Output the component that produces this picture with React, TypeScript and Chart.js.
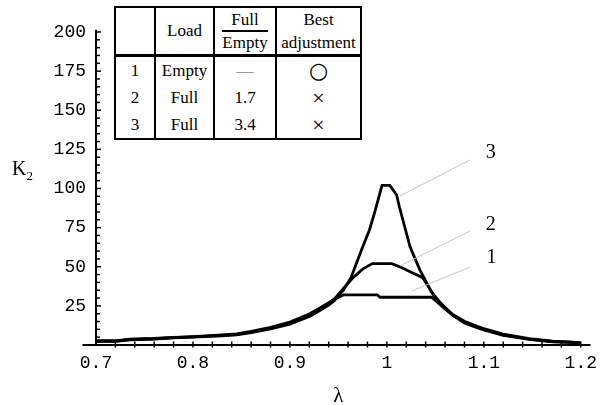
import React, { useEffect, useRef } from "react";
import { Chart, registerables } from "chart.js";
Chart.register(...registerables);

// ---- data ----
const CURVE1_X = [0.700, 0.720, 0.735, 0.760, 0.780, 0.800, 0.830, 0.845, 0.860, 0.880, 0.900, 0.920, 0.930, 0.940, 0.947, 0.955, 0.990, 0.993, 1.046, 1.050, 1.060, 1.068, 1.080, 1.093, 1.100, 1.120, 1.147, 1.171, 1.190, 1.200];
const CURVE1_Y = [2.5, 2.5, 3.5, 4.0, 4.7, 5.2, 6.2, 6.8, 8.3, 10.8, 14.0, 19.0, 22.5, 26.5, 29.5, 32.0, 32.0, 30.5, 30.5, 28.5, 23.0, 19.0, 14.5, 11.5, 10.0, 6.5, 3.8, 2.2, 1.8, 1.3];

const CURVE2_X = [0.700, 0.720, 0.735, 0.760, 0.780, 0.800, 0.830, 0.845, 0.860, 0.880, 0.900, 0.920, 0.930, 0.940, 0.946, 0.955, 0.965, 0.975, 0.985, 1.005, 1.015, 1.025, 1.037, 1.043, 1.050, 1.060, 1.068, 1.080, 1.093, 1.100, 1.120, 1.147, 1.171, 1.190, 1.200];
const CURVE2_Y = [2.7, 2.7, 3.7, 4.2, 4.9, 5.4, 6.4, 7.1, 8.7, 11.3, 14.6, 19.8, 23.3, 27.0, 29.5, 36.0, 43.0, 48.5, 52.0, 52.0, 49.5, 46.5, 43.0, 37.0, 30.0, 24.0, 19.5, 15.2, 12.0, 10.5, 7.0, 4.1, 2.4, 1.9, 1.4];

const CURVE3_X = [0.700, 0.720, 0.735, 0.760, 0.780, 0.800, 0.830, 0.845, 0.860, 0.880, 0.900, 0.920, 0.930, 0.940, 0.946, 0.955, 0.963, 0.974, 0.982, 0.988, 0.995, 1.003, 1.010, 1.013, 1.024, 1.034, 1.046, 1.055, 1.068, 1.080, 1.093, 1.100, 1.120, 1.147, 1.171, 1.190, 1.200];
const CURVE3_Y = [2.3, 2.3, 3.3, 3.8, 4.5, 5.0, 5.9, 6.5, 7.9, 10.3, 13.3, 18.2, 21.7, 25.5, 28.5, 35.0, 43.0, 61.0, 73.5, 86.0, 102.0, 102.0, 96.0, 88.0, 62.6, 48.0, 34.0, 27.0, 19.0, 14.0, 11.0, 9.6, 6.1, 3.6, 2.0, 1.7, 1.2];

const LEADER1_X = [1.0258, 1.0856];
const LEADER1_Y = [34.5, 49.8];
const LEADER2_X = [1.0134, 1.0856];
const LEADER2_Y = [50.5, 72.8];
const LEADER3_X = [1.0134, 1.0856];
const LEADER3_Y = [95.2, 118.2];

const CURVE_LABELS = ["1", "2", "3"];
const CURVE_LABEL_X = [1.108, 1.107, 1.107];
const CURVE_LABEL_Y = [55.6, 76.7, 122.7];

const X_TICKS = [0.7, 0.8, 0.9, 1.0, 1.1, 1.2];
const X_TICK_LABELS = ["0.7", "0.8", "0.9", "1", "1.1", "1.2"];
const Y_TICKS = [25, 50, 75, 100, 125, 150, 175, 200];
const Y_TICK_LABELS = ["25", "50", "75", "100", "125", "150", "175", "200"];

const TABLE_HEAD = ["", "Load", "Full/Empty", "Best adjustment"];
const TABLE_NO = ["1", "2", "3"];
const TABLE_LOAD = ["Empty", "Full", "Full"];
const TABLE_RATIO = ["—", "1.7", "3.4"];
const TABLE_BEST = ["○", "×", "×"];

const X_MIN = 0.7, X_MAX = 1.2, Y_MIN = 0, Y_MAX = 200;

const pts = (xs: number[], ys: number[]) => xs.map((x, i) => ({ x, y: ys[i] }));

const MONO = '"Liberation Mono", "Courier New", monospace';
const SERIF = '"Liberation Serif", "Times New Roman", serif';

const axesPlugin = {
  id: "mmaAxes",
  beforeDatasetsDraw(chart: any) {
    const { ctx, scales } = chart;
    const x = scales.x, y = scales.y;
    const y0 = y.getPixelForValue(0);
    const x0 = x.getPixelForValue(X_MIN);
    ctx.save();
    ctx.strokeStyle = "#000";
    ctx.lineWidth = 2;
    ctx.beginPath();
    ctx.moveTo(x.getPixelForValue(0.686), y0);
    ctx.lineTo(x.getPixelForValue(1.21), y0);
    ctx.stroke();
    ctx.beginPath();
    ctx.moveTo(x0, y0);
    ctx.lineTo(x0, y.getPixelForValue(201.5));
    ctx.stroke();
    ctx.lineWidth = 1.5;
    for (let i = 1; i <= 25; i++) {
      const px = x.getPixelForValue(X_MIN + i * 0.02);
      ctx.beginPath();
      ctx.moveTo(px, y0 - 3.5);
      ctx.lineTo(px, y0 + 2.5);
      ctx.stroke();
    }
    for (let v = 5; v <= 200; v += 5) {
      const py = y.getPixelForValue(v);
      ctx.beginPath();
      ctx.moveTo(x0, py);
      ctx.lineTo(x0 + (v % 25 === 0 ? 5 : 4), py);
      ctx.stroke();
    }
    ctx.restore();
  },
  afterDraw(chart: any) {
    const { ctx, scales } = chart;
    ctx.save();
    ctx.fillStyle = "#000";
    ctx.font = `20px ${SERIF}`;
    ctx.textAlign = "center";
    ctx.textBaseline = "middle";
    CURVE_LABELS.forEach((t, i) => {
      ctx.fillText(t, scales.x.getPixelForValue(CURVE_LABEL_X[i]), scales.y.getPixelForValue(CURVE_LABEL_Y[i]));
    });
    ctx.restore();
  },
};

function ChartCanvas() {
  const ref = useRef<HTMLCanvasElement | null>(null);
  useEffect(() => {
    if (!ref.current) return;
    const black = (data: any) => ({
      data, borderColor: "#000", borderWidth: 2.8, pointRadius: 0, tension: 0, fill: false,
    });
    const gray = (data: any) => ({
      data, borderColor: "#c4c4c4", borderWidth: 1, pointRadius: 0, tension: 0, fill: false,
    });
    const chart = new Chart(ref.current, {
      type: "line",
      data: {
        datasets: [
          gray(pts(LEADER1_X, LEADER1_Y)),
          gray(pts(LEADER2_X, LEADER2_Y)),
          gray(pts(LEADER3_X, LEADER3_Y)),
          black(pts(CURVE1_X, CURVE1_Y)),
          black(pts(CURVE2_X, CURVE2_Y)),
          black(pts(CURVE3_X, CURVE3_Y)),
        ] as any,
      },
      options: {
        animation: false,
        responsive: false,
        devicePixelRatio: 1,
        layout: { padding: { left: 0, right: 23, top: 32, bottom: 0 } },
        plugins: { legend: { display: false }, tooltip: { enabled: false } },
        scales: {
          x: {
            type: "linear",
            min: X_MIN,
            max: X_MAX,
            grid: { display: false, drawTicks: false },
            border: { display: false },
            afterBuildTicks: (s: any) => { s.ticks = X_TICKS.map((v) => ({ value: v })); },
            afterFit: (s: any) => { s.height = 60; },
            ticks: {
              autoSkip: false,
              maxRotation: 0,
              padding: 7,
              color: "#000",
              font: { family: MONO, size: 18 },
              callback: (_v: any, i: number) => X_TICK_LABELS[i],
            },
            title: {
              display: true,
              text: "λ",
              color: "#000",
              font: { family: SERIF, size: 21 },
              padding: { top: 0, bottom: -4 },
            },
          },
          y: {
            type: "linear",
            min: Y_MIN,
            max: Y_MAX,
            grid: { display: false, drawTicks: false },
            border: { display: false },
            afterBuildTicks: (s: any) => { s.ticks = Y_TICKS.map((v) => ({ value: v })); },
            afterFit: (s: any) => { s.width = 96; },
            ticks: {
              autoSkip: false,
              padding: 10,
              color: "#000",
              font: { family: MONO, size: 18 },
              callback: (_v: any, i: number) => Y_TICK_LABELS[i],
            },
          },
        },
      },
      plugins: [axesPlugin],
    } as any);
    return () => chart.destroy();
  }, []);
  return <canvas ref={ref} width={604} height={405} style={{ display: "block", width: 604, height: 405 }} />;
}

const cell: React.CSSProperties = {
  borderLeft: "2px solid #000",
  borderRight: "2px solid #000",
  padding: 0,
  textAlign: "center",
  verticalAlign: "middle",
};

function DataTable() {
  const [h0, h1, h2, h3] = TABLE_HEAD;
  const [num, den] = h2.split("/");
  const [b1, b2] = h3.split(" ");
  return (
    <table
      style={{
        position: "absolute",
        left: 114,
        top: 6,
        borderCollapse: "collapse",
        tableLayout: "fixed",
        fontFamily: SERIF,
        fontSize: 17,
        color: "#000",
        background: "#fff",
        border: "2px solid #000",
      }}
    >
      <colgroup>
        <col style={{ width: 40 }} />
        <col style={{ width: 59 }} />
        <col style={{ width: 62 }} />
        <col style={{ width: 85 }} />
      </colgroup>
      <thead>
        <tr style={{ height: 43 }}>
          <th style={{ ...cell, fontWeight: "normal", borderBottom: "3px solid #000" }}>{h0}</th>
          <th style={{ ...cell, fontWeight: "normal", borderBottom: "3px solid #000" }}>{h1}</th>
          <th style={{ ...cell, fontWeight: "normal", borderBottom: "3px solid #000" }}>
            <div style={{ display: "inline-block", lineHeight: "21px" }}>
              <div style={{ borderBottom: "2px solid #000" }}>{num}</div>
              <div>{den}</div>
            </div>
          </th>
          <th style={{ ...cell, fontWeight: "normal", borderBottom: "3px solid #000", lineHeight: "23px" }}>
            {b1}
            <br />
            {b2}
          </th>
        </tr>
      </thead>
      <tbody>
        {TABLE_NO.map((n, i) => (
          <tr key={n} style={{ height: i === 0 ? 29 : 27 }}>
            <td style={cell}>{n}</td>
            <td style={cell}>{TABLE_LOAD[i]}</td>
            <td style={{ ...cell, color: i === 0 ? "#999" : "#000" }}>{TABLE_RATIO[i]}</td>
            <td style={{ ...cell, fontSize: 22, lineHeight: "24px", fontFamily: i === 0 ? '"DejaVu Sans", sans-serif' : SERIF }}>{TABLE_BEST[i]}</td>
          </tr>
        ))}
      </tbody>
    </table>
  );
}

export default function App() {
  useEffect(() => {
    document.body.style.margin = "0";
  }, []);
  return (
    <div style={{ position: "absolute", left: 0, top: 0, width: 604, height: 405, background: "#fff", overflow: "hidden" }}>
      <ChartCanvas />
      <div
        style={{
          position: "absolute",
          left: 12,
          top: 158,
          fontFamily: SERIF,
          fontSize: 20,
          lineHeight: "20px",
          color: "#000",
          whiteSpace: "nowrap",
        }}
      >
        K<span style={{ fontSize: 13, position: "relative", top: 5 }}>2</span>
      </div>
      <DataTable />
    </div>
  );
}
